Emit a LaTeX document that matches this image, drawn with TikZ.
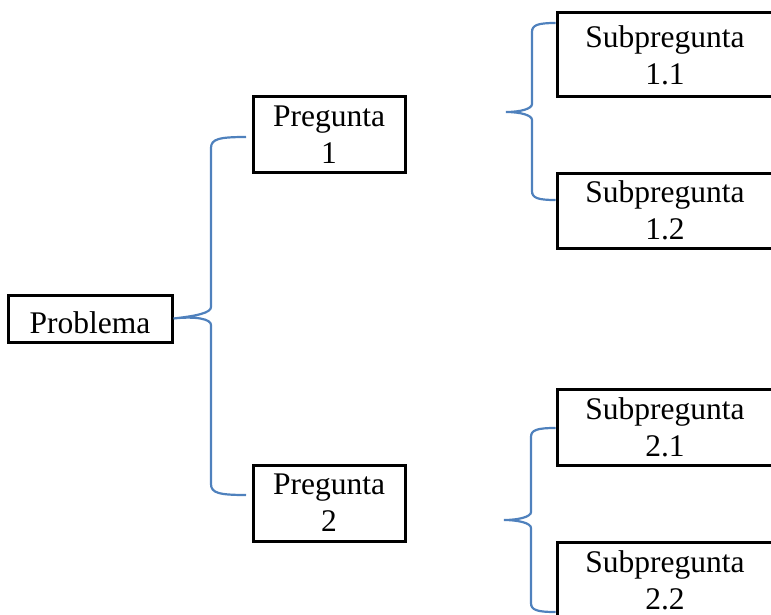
\documentclass[tikz,border=0pt]{standalone}
\usepackage{fontspec}
\setmainfont{Liberation Serif}
\definecolor{bracecol}{RGB}{79,129,189}
\begin{document}
\begin{tikzpicture}[x=1pt,y=-1pt,
  box/.style={draw=black, line width=3pt, inner sep=0pt, align=center,
    font=\fontsize{31.5}{37}\selectfont},
  curly/.style={draw=bracecol, line width=2.2pt}]
\useasboundingbox (0,0) rectangle (771,615);
% boxes
\node[box, minimum width=164pt, minimum height=47pt, text height=29pt, text depth=0pt] (prob) at (90,318.5) {Problema};
\node[box, minimum width=152pt, minimum height=75pt] (p1) at (329,134.5) {Pregunta\\1};
\node[box, minimum width=152pt, minimum height=76pt] (p2) at (329,503) {Pregunta\\2};
\node[box, minimum width=216pt, minimum height=84pt] (s11) at (665,55) {Subpregunta\\1.1};
\node[box, minimum width=216pt, minimum height=75pt] (s12) at (665,210.5) {Subpregunta\\1.2};
\node[box, minimum width=216pt, minimum height=76pt] (s21) at (665,427) {Subpregunta\\2.1};
\node[box, minimum width=216pt, minimum height=76pt] (s22) at (665,580) {Subpregunta\\2.2};
% brace anchor points
\coordinate (b1tip) at (prob.east);
\coordinate (b1top) at (246,137);
\coordinate (b1bot) at (246,495);
\coordinate (b2tip) at (506,112);
\coordinate (b2top) at (s11.west |- 0,23);
\coordinate (b2bot) at (s12.west |- 0,200);
\coordinate (b3tip) at (504,520);
\coordinate (b3top) at (s21.west |- 0,428);
\coordinate (b3bot) at (s22.west |- 0,612);
% brace 1
\draw[curly] (b1top) .. controls (219,137) and (211,139) .. (211,148)
  -- (211,307) .. controls (211,313) and (196,316) .. (b1tip.center)
  .. controls (196,316) and (211,319) .. (211,325)
  -- (211,484) .. controls (211,493) and (219,495) .. (b1bot);
% brace 2
\draw[curly] (b2top) .. controls (538,23) and (532,25) .. (532,32)
  -- (532,104) .. controls (532,109) and (520,112) .. (b2tip)
  .. controls (520,112) and (532,115) .. (532,120)
  -- (532,191) .. controls (532,198) and (538,200) .. (b2bot);
% brace 3
\draw[curly] (b3top) .. controls (537,428) and (531,430) .. (531,437)
  -- (531,512) .. controls (531,517) and (518,520) .. (b3tip)
  .. controls (518,520) and (531,523) .. (531,528)
  -- (531,603) .. controls (531,610) and (537,612) .. (b3bot);
\end{tikzpicture}
\end{document}
